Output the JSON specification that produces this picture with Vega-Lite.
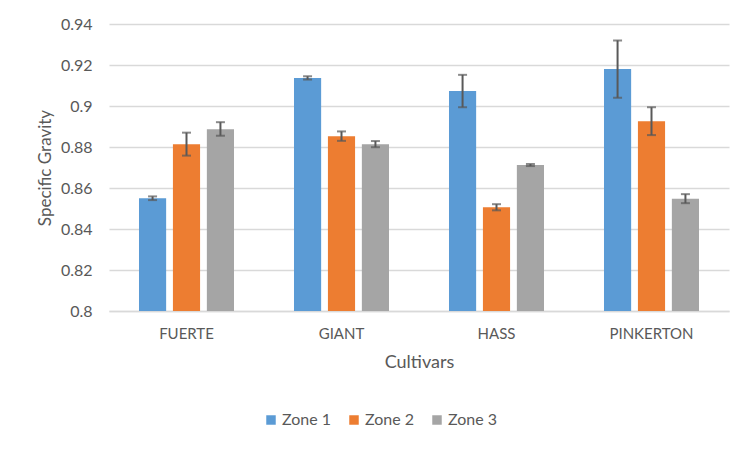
{
  "$schema": "https://vega.github.io/schema/vega-lite/v6.json",
  "autosize": "none",
  "width": 620,
  "height": 287,
  "padding": {"left": 109, "top": 24, "right": 23, "bottom": 141},
  "background": "white",
  "config": {
    "view": {"stroke": null},
    "font": "Lato",
    "axis": {"labelFont": "Lato", "titleFont": "Lato", "labelColor": "#595959", "titleColor": "#595959", "titleFontWeight": "normal"},
    "legend": {"labelFont": "Lato"}
  },
  "data": {
    "values": [
      {"cultivar": "FUERTE", "zone": "Zone 1", "value": 0.855, "lo": 0.8541, "hi": 0.8559},
      {"cultivar": "FUERTE", "zone": "Zone 2", "value": 0.8814, "lo": 0.8758, "hi": 0.887},
      {"cultivar": "FUERTE", "zone": "Zone 3", "value": 0.8887, "lo": 0.8855, "hi": 0.8921},
      {"cultivar": "GIANT", "zone": "Zone 1", "value": 0.9137, "lo": 0.9129, "hi": 0.9145},
      {"cultivar": "GIANT", "zone": "Zone 2", "value": 0.8853, "lo": 0.883, "hi": 0.8876},
      {"cultivar": "GIANT", "zone": "Zone 3", "value": 0.8814, "lo": 0.8799, "hi": 0.8829},
      {"cultivar": "HASS", "zone": "Zone 1", "value": 0.9073, "lo": 0.8994, "hi": 0.9152},
      {"cultivar": "HASS", "zone": "Zone 2", "value": 0.8506, "lo": 0.8491, "hi": 0.8521},
      {"cultivar": "HASS", "zone": "Zone 3", "value": 0.8712, "lo": 0.8707, "hi": 0.8717},
      {"cultivar": "PINKERTON", "zone": "Zone 1", "value": 0.918, "lo": 0.904, "hi": 0.932},
      {"cultivar": "PINKERTON", "zone": "Zone 2", "value": 0.8926, "lo": 0.8858, "hi": 0.8994},
      {"cultivar": "PINKERTON", "zone": "Zone 3", "value": 0.8548, "lo": 0.8526, "hi": 0.857}
    ]
  },
  "encoding": {
    "x": {
      "field": "cultivar", "type": "nominal",
      "scale": {"paddingInner": 0.387, "paddingOuter": 0.1935},
      "axis": {
        "title": "Cultivars", "labelAngle": 0, "labelFontSize": 15, "titleFontSize": 18,
        "ticks": false, "domain": true, "domainColor": "#d9d9d9", "domainWidth": 1.3,
        "labelPadding": 15, "titlePadding": 12
      }
    },
    "xOffset": {"field": "zone", "type": "nominal", "scale": {"paddingInner": 0.2, "paddingOuter": 0}}
  },
  "layer": [
    {
      "mark": {"type": "bar"},
      "encoding": {
        "y": {
          "field": "value", "type": "quantitative",
          "scale": {"domain": [0.8, 0.94], "zero": false, "nice": false},
          "axis": {
            "title": "Specific Gravity", "values": [0.8, 0.82, 0.84, 0.86, 0.88, 0.9, 0.92, 0.94],
            "format": "~g", "labelFontSize": 16, "titleFontSize": 17, "domain": false, "ticks": false,
            "gridColor": "#d9d9d9", "gridWidth": 1.3, "labelPadding": 17, "titlePadding": 6
          }
        },
        "y2": {"datum": 0.8},
        "color": {
          "field": "zone", "type": "nominal",
          "scale": {"domain": ["Zone 1", "Zone 2", "Zone 3"], "range": ["#5B9BD5", "#ED7D31", "#A5A5A5"]},
          "legend": {
            "title": null, "orient": "none", "direction": "horizontal", "legendX": 154, "legendY": 388,
            "symbolType": "square", "symbolSize": 90, "symbolStrokeWidth": 0, "labelFontSize": 16,
            "labelColor": "#595959", "columnPadding": 14, "labelOffset": 3
          }
        }
      }
    },
    {
      "mark": {"type": "rule", "color": "#595959", "strokeWidth": 2},
      "encoding": {
        "y": {"field": "lo", "type": "quantitative"},
        "y2": {"field": "hi"}
      }
    },
    {
      "mark": {"type": "tick", "color": "#595959", "thickness": 2, "size": 9, "orient": "horizontal"},
      "encoding": {"y": {"field": "lo", "type": "quantitative"}}
    },
    {
      "mark": {"type": "tick", "color": "#595959", "thickness": 2, "size": 9, "orient": "horizontal"},
      "encoding": {"y": {"field": "hi", "type": "quantitative"}}
    }
  ]
}
